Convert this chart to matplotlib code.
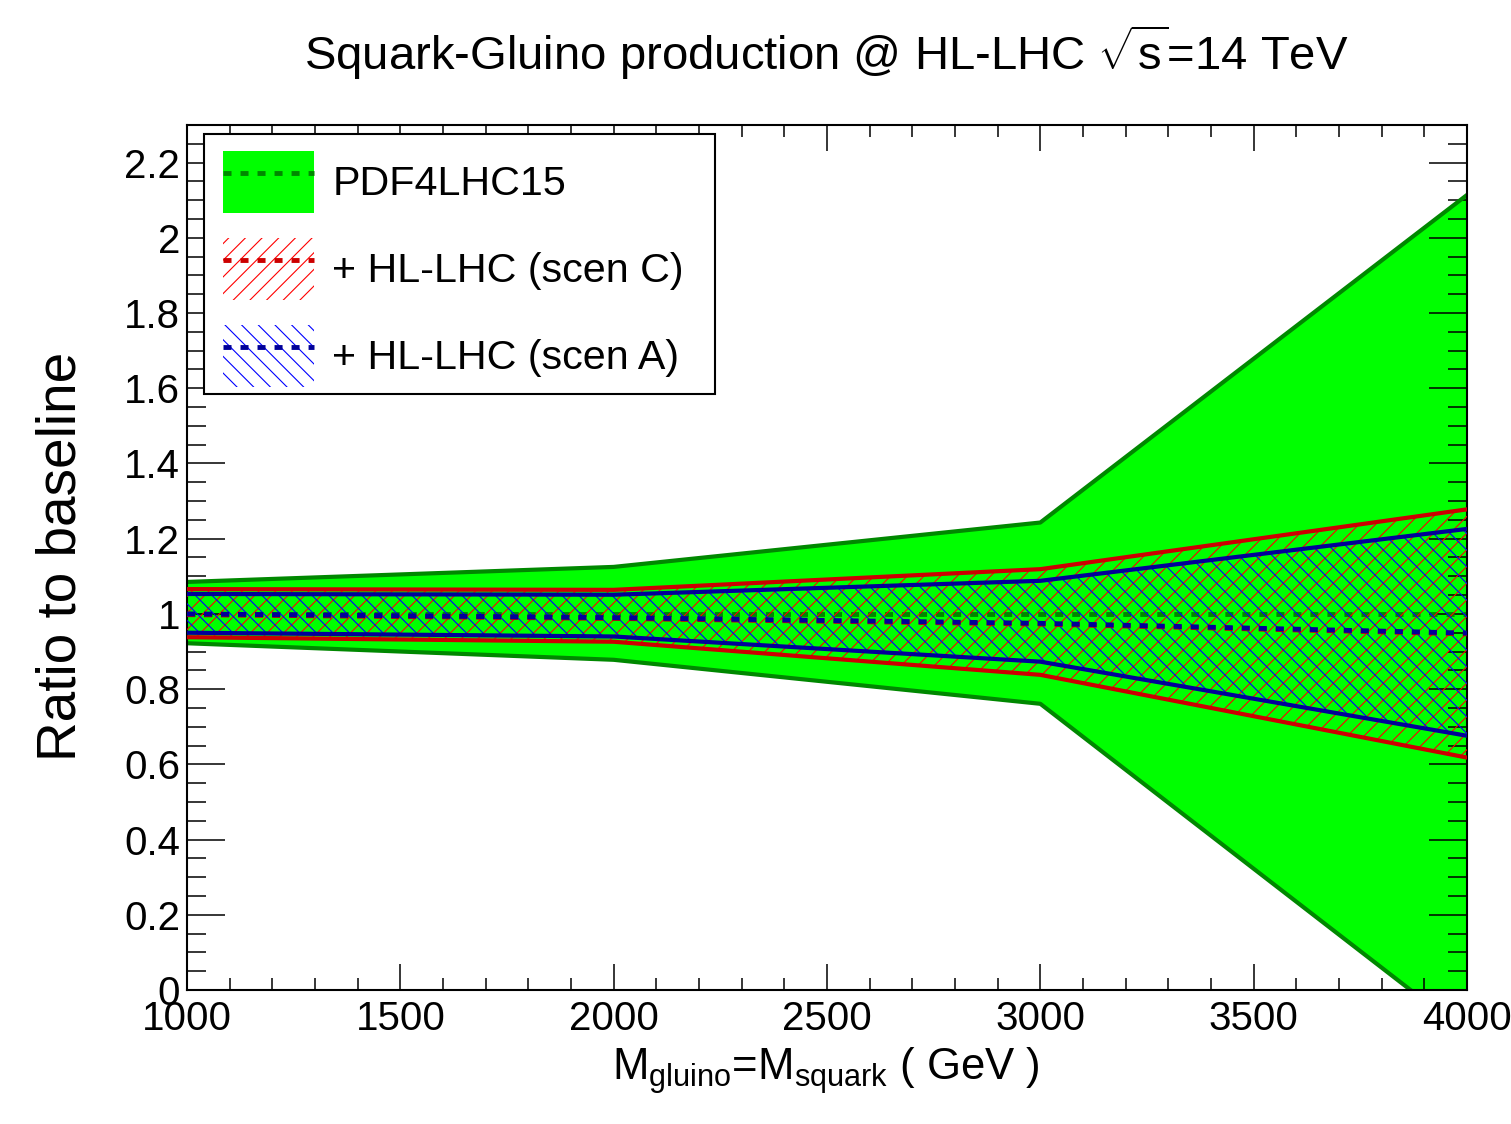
import numpy as np
import matplotlib
matplotlib.use("Agg")
import matplotlib.pyplot as plt
from matplotlib.patches import Patch, Rectangle
from matplotlib.lines import Line2D
from matplotlib.ticker import MultipleLocator, FuncFormatter

plt.rcParams["font.family"] = ["Liberation Sans", "DejaVu Sans"]
plt.rcParams["mathtext.fontset"] = "custom"
plt.rcParams["mathtext.rm"] = "Liberation Sans"
plt.rcParams["mathtext.it"] = "Liberation Sans:italic"
plt.rcParams["hatch.linewidth"] = 0.8

# --- data -----------------------------------------------------------------
mass = [1000, 2000, 3000, 4000]

pdf4lhc_up = [1.085, 1.125, 1.243, 2.114]
pdf4lhc_dn = [0.922, 0.878, 0.761, -0.116]
pdf4lhc_cv = [1.0, 1.0, 1.0, 1.0]

scenC_up = [1.066, 1.064, 1.119, 1.278]
scenC_dn = [0.938, 0.926, 0.838, 0.618]
scenC_cv = [0.998, 0.988, 0.973, 0.947]

scenA_up = [1.053, 1.051, 1.088, 1.226]
scenA_dn = [0.950, 0.940, 0.873, 0.676]
scenA_cv = [1.0, 0.99, 0.975, 0.949]

labels = ["PDF4LHC15", "+ HL-LHC (scen C)", "+ HL-LHC (scen A)"]

GREEN = "#00ff00"
DKGREEN = "#008800"
RED = "#cc0000"
BLUE = "#000099"

W, H = 1511, 1124
fig = plt.figure(figsize=(W / 100, H / 100), dpi=100)
ax = fig.add_axes([187 / W, 1 - 990 / H, (1467 - 187) / W, (990 - 125) / H])

lw = 3.0
dash = (1.65, 1.85)

# PDF4LHC15 band
ax.fill_between(mass, pdf4lhc_dn, pdf4lhc_up, facecolor=GREEN, linewidth=0, zorder=1)
ax.plot(mass, pdf4lhc_up, color=DKGREEN, lw=lw, zorder=2)
ax.plot(mass, pdf4lhc_dn, color=DKGREEN, lw=lw, zorder=2)
ax.plot(mass, pdf4lhc_cv, color=DKGREEN, lw=3.5, dashes=dash, zorder=2)

# hatched HL-LHC bands
ax.fill_between(mass, scenC_dn, scenC_up, facecolor="none", edgecolor="#ff0000",
                hatch="//", linewidth=0, zorder=3)
ax.fill_between(mass, scenA_dn, scenA_up, facecolor="none", edgecolor="#0000ff",
                hatch="\\\\", linewidth=0, zorder=3)

ax.plot(mass, scenC_up, color=RED, lw=lw, zorder=4)
ax.plot(mass, scenC_dn, color=RED, lw=lw, zorder=4)
ax.plot(mass, scenA_up, color=BLUE, lw=lw, zorder=5)
ax.plot(mass, scenA_dn, color=BLUE, lw=lw, zorder=5)
ax.plot(mass, scenC_cv, color=RED, lw=3.5, dashes=dash, zorder=6)
ax.plot(mass, scenA_cv, color=BLUE, lw=3.5, dashes=dash, zorder=7)

ax.set_xlim(1000, 4000)
ax.set_ylim(0, 2.3)

# ROOT-like ticks on all sides
ax.xaxis.set_major_locator(MultipleLocator(500))
ax.xaxis.set_minor_locator(MultipleLocator(100))
ax.yaxis.set_major_locator(MultipleLocator(0.2))
ax.yaxis.set_minor_locator(MultipleLocator(0.05))
ax.yaxis.set_major_formatter(FuncFormatter(lambda v, p: f"{v:g}"))
ax.tick_params(axis="both", which="both", direction="in", top=True, right=True,
               width=1.1, labelsize=29)
ax.tick_params(axis="x", which="major", length=18.7, pad=7)
ax.tick_params(axis="x", which="minor", length=8.6)
ax.tick_params(axis="y", which="major", length=27.4, pad=5)
ax.tick_params(axis="y", which="minor", length=13.7)
for s in ax.spines.values():
    s.set_linewidth(1.5)

# legend: ROOT-style box drawn by hand, entries from ax.legend
def ax_xy(px, py):
    return (px - 187) / 1280, (990 - py) / 865

x0, y0 = ax_xy(204, 394)
x1, y1 = ax_xy(715, 134)
ax.add_patch(Rectangle((x0, y0), x1 - x0, y1 - y0, transform=ax.transAxes,
                       facecolor="white", edgecolor="black", lw=1.5, zorder=9))

handles = [
    (Patch(facecolor=GREEN, linewidth=0),
     Line2D([], [], color=DKGREEN, lw=3.5, dashes=dash)),
    (Patch(facecolor="none", edgecolor="#ff0000", hatch="//", linewidth=0),
     Line2D([], [], color=RED, lw=3.5, dashes=dash)),
    (Patch(facecolor="none", edgecolor="#0000ff", hatch="\\\\", linewidth=0),
     Line2D([], [], color=BLUE, lw=3.5, dashes=dash)),
]
leg = ax.legend(handles, labels, loc="upper left",
                bbox_to_anchor=ax_xy(223, 151),
                borderaxespad=0, fontsize=29.7, handlelength=2.2, handleheight=1.93,
                handletextpad=0.45, labelspacing=0.61, borderpad=0,
                frameon=False)
leg.set_zorder(10)

fig.text(826 / W, 1 - 70 / H,
         r"Squark-Gluino production @ HL-LHC $\sqrt{\mathrm{s}}$=14 TeV",
         ha="center", va="baseline", fontsize=34)
fig.text(826 / W, 1 - 1080 / H,
         r"M$_{\rm gluino}$=M$_{\rm squark}$ ( GeV )",
         ha="center", va="baseline", fontsize=31.5)
fig.text(62 / W, 1 - 556 / H, "Ratio to baseline", rotation=90,
         ha="center", va="center", fontsize=39.5)

fig.savefig("out.png", dpi=100)
